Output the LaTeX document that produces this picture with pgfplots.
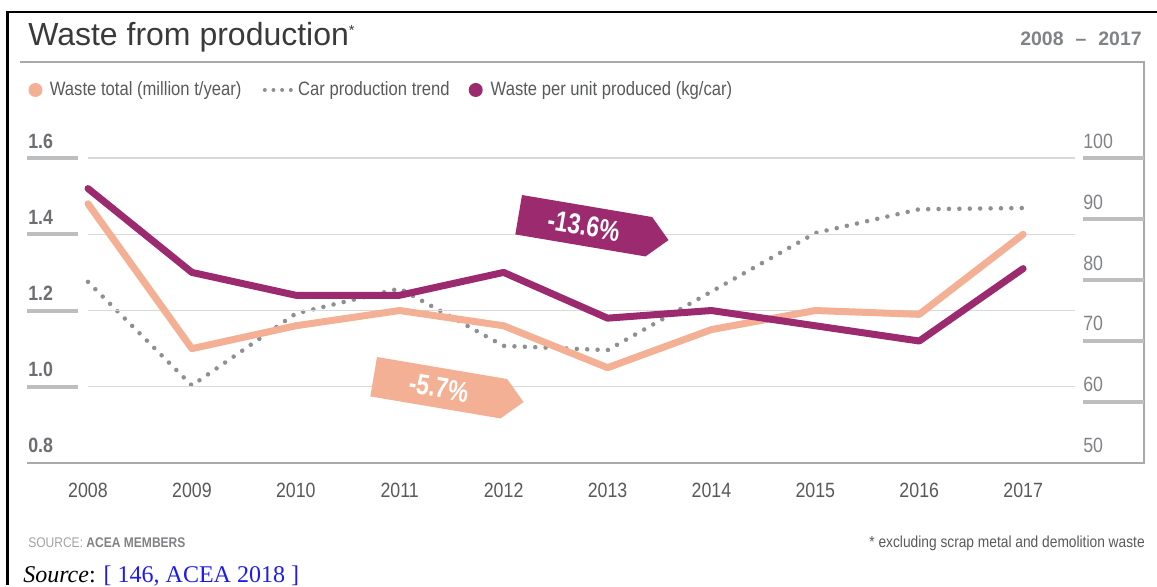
\documentclass[border=0pt]{standalone}
\usepackage{pgfplots}
\pgfplotsset{compat=1.18}
\usepackage{fontspec}
\setmainfont{Liberation Sans}
\newfontfamily\cond{Liberation Sans}[FakeStretch=0.86]
\newfontfamily\condc{Liberation Sans}[FakeStretch=0.8]
\newfontfamily\serif{Liberation Serif}
\definecolor{salmon}{HTML}{F4B095}
\definecolor{plum}{HTML}{9C2A6F}
\definecolor{dotgray}{HTML}{8E9094}
\definecolor{bargray}{HTML}{BCBEC0}
\definecolor{gridgray}{HTML}{D9D9DA}
\definecolor{framegray}{HTML}{A7A9AC}
\definecolor{titlecol}{HTML}{3A3A3C}
\definecolor{legtext}{HTML}{58595B}
\definecolor{labgray}{HTML}{6D6E71}
\definecolor{rlabgray}{HTML}{808285}
\definecolor{srcgray}{HTML}{A0A2A5}
\definecolor{linkblue}{HTML}{1F1AF0}
\begin{document}
\begin{tikzpicture}
\begin{scope}[x=0.75pt,y=-0.75pt]
\path[use as bounding box] (0,0) rectangle (1157,585);
% outer black frame
\draw[black, line width=2pt] (7.5,585) -- (7.5,12) -- (1157,12);
% gray frame
\draw[framegray, line width=1.1pt] (20,62) -- (1144,62) -- (1144,463) -- (27,463);
% title
\node[anchor=base west, inner sep=0pt, text=titlecol, font=\fontsize{24}{28}\selectfont] at (28,46)
  {Waste from production\raisebox{8pt}{\fontsize{11}{11}\selectfont *}};
\node[anchor=base east, inner sep=0pt, text=rlabgray, font=\bfseries\fontsize{14.6}{16}\selectfont] at (1142,46)
  {2008\hspace{9pt}–\hspace{9pt}2017};
\end{scope}

% right-scale axis (car production trend)
\begin{axis}[at={(20.25pt,-347.25pt)}, anchor=south west, scale only axis,
  width=837.75pt, height=300.75pt,
  xmin=2007.413, xmax=2018.163, ymin=50, ymax=115.74,
  axis line style={draw=none}, major tick length=0pt, clip=false,
  xtick=\empty,
  ytick={50,60,70,80,90,100}, yticklabels={50,60,70,80,90,100},
  yticklabel pos=right,
  yticklabel style={anchor=base west, inner sep=0pt, xshift=-45.75pt, yshift=7.5pt,
    font=\cond\fontsize{15.5}{16}\selectfont, text=rlabgray}]
\pgfplotsinvokeforeach{60,70,80,90,100}{
  \draw[bargray, line width=3pt] (axis cs:2017.577,#1) -- (axis cs:2018.163,#1);
}
\addplot[dotgray, line width=3.4pt, line cap=round, dash pattern=on 0pt off 7.8pt]
  coordinates {(2008,79.7) (2009,62.7) (2010,74.5) (2011,78.6) (2012,69.2)
               (2013,68.5) (2014,78.1) (2015,87.7) (2016,91.6) (2017,91.8)};
\end{axis}

% left-scale axis (waste)
\begin{axis}[at={(20.25pt,-347.25pt)}, anchor=south west, scale only axis,
  width=837.75pt, height=300.75pt,
  xmin=2007.413, xmax=2018.163, ymin=0.8, ymax=1.852,
  axis line style={draw=none}, major tick length=0pt, clip=false,
  xtick={2008,2009,2010,2011,2012,2013,2014,2015,2016,2017},
  xticklabels={2008,2009,2010,2011,2012,2013,2014,2015,2016,2017},
  xticklabel style={anchor=base, inner sep=0pt, yshift=-26.25pt,
    font=\cond\fontsize{15.5}{16}\selectfont, text=legtext},
  ytick={0.8,1.0,1.2,1.4,1.6}, yticklabels={0.8,1.0,1.2,1.4,1.6},
  yticklabel style={anchor=base west, inner sep=0pt, xshift=0.75pt, yshift=7.5pt,
    font=\cond\bfseries\fontsize{15.5}{16}\selectfont, text=labgray},
  legend columns=3,
  legend cell align=left,
  legend style={at={(0.0013,0.9302)}, anchor=west, draw=none, fill=none,
    inner sep=0pt, outer sep=0pt, nodes={inner sep=0pt},
    font=\cond\fontsize{14.5}{16}\selectfont, text=legtext}]
\pgfplotsinvokeforeach{1.0,1.2,1.4,1.6}{
  \draw[gridgray, line width=1.1pt] (axis cs:2008,#1) -- (axis cs:2017.5,#1);
  \draw[bargray, line width=3pt] (axis cs:2007.413,#1) -- (axis cs:2007.904,#1);
}
\addlegendimage{legend image code/.code={
  \fill[salmon, draw=none] (5.25pt,0pt) circle (5.25pt);
  \path[draw=none, fill=none] (0pt,-5.25pt) rectangle (16.1pt,5.25pt);}}
\addlegendentry{Waste total (million t/year)}
\addlegendimage{legend image code/.code={
  \foreach \xx in {17.5,24,30.5,37}{\fill[dotgray, draw=none] (\xx pt,0pt) circle (1.5pt);}
  \path[draw=none, fill=none] (0pt,-5.25pt) rectangle (42.5pt,5.25pt);}}
\addlegendentry{Car production trend}
\addlegendimage{legend image code/.code={
  \fill[plum, draw=none] (19.5pt,0pt) circle (5.25pt);
  \path[draw=none, fill=none] (0pt,-5.25pt) rectangle (30.75pt,5.25pt);}}
\addlegendentry{Waste per unit produced (kg/car)}

\addplot[forget plot, salmon, line width=5.25pt, line cap=round, line join=round]
  coordinates {(2008,1.48) (2009,1.10) (2010,1.16) (2011,1.20) (2012,1.16)
               (2013,1.05) (2014,1.15) (2015,1.20) (2016,1.19) (2017,1.40)};
\addplot[forget plot, plum, line width=5.25pt, line cap=round, line join=round]
  coordinates {(2008,1.52) (2009,1.30) (2010,1.24) (2011,1.24) (2012,1.30)
               (2013,1.18) (2014,1.20) (2015,1.16) (2016,1.12) (2017,1.31)};
\end{axis}

\begin{scope}[x=0.75pt,y=-0.75pt]
% callouts
\begin{scope}[shift={(522,195)}, rotate=-9.6, transform shape]
  \fill[plum] (0,0) -- (132,0) -- (152,20) -- (132,40) -- (0,40) -- cycle;
  \node[text=white, inner sep=0pt, font=\condc\bfseries\fontsize{21.5}{22}\selectfont] at (66,20) {-13.6\%};
\end{scope}
\begin{scope}[shift={(377,357)}, rotate=-9.6, transform shape]
  \fill[salmon] (0,0) -- (132,0) -- (152,20) -- (132,40) -- (0,40) -- cycle;
  \node[text=white, inner sep=0pt, font=\condc\bfseries\fontsize{21.5}{22}\selectfont] at (66,20) {-5.7\%};
\end{scope}
% footer
\node[anchor=base west, inner sep=0pt, text=srcgray, font=\cond\fontsize{10.5}{12}\selectfont] at (28,548)
  {SOURCE: \textcolor{rlabgray}{\bfseries ACEA MEMBERS}};
\node[anchor=base east, inner sep=0pt, text=legtext, font=\cond\fontsize{12}{14}\selectfont] at (1145,548)
  {* excluding scrap metal and demolition waste};
\node[anchor=base west, inner sep=0pt, font=\serif\fontsize{18}{20}\selectfont] at (23,583)
  {\textit{Source}: \textcolor{linkblue}{[ 146, ACEA 2018 ]}};
\end{scope}
\end{tikzpicture}
\end{document}
